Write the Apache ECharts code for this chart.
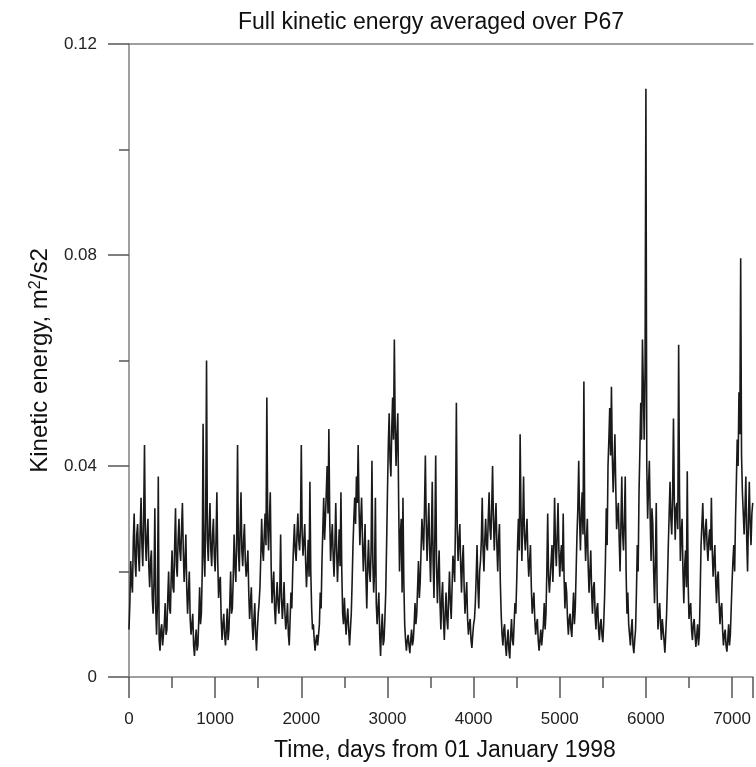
<!DOCTYPE html>
<html>
<head>
<meta charset="utf-8">
<script src="https://cdn.jsdelivr.net/npm/echarts@6/dist/echarts.min.js"></script>
<style>
html,body{margin:0;padding:0;background:#fff;}
#chart{width:756px;height:767px;}
</style>
</head>
<body>
<div id="chart"></div>
<script>
// Values, 20-day spacing.
// keA: days 0, 20, 40, ... ; keB: days 10, 30, 50, ...
const stepDays = 20;
const keA = [
  0.009,0.022,0.016,0.031,0.019,0.029,0.020,0.034,0.021,0.044,
  0.022,0.030,0.017,0.024,0.012,0.032,0.008,0.038,0.005,0.010,
  0.006,0.014,0.009,0.020,0.012,0.024,0.016,0.032,0.019,0.030,
  0.022,0.033,0.018,0.027,0.012,0.020,0.008,0.012,0.004,0.009,
  0.006,0.017,0.012,0.048,0.019,0.060,0.022,0.033,0.021,0.030,
  0.020,0.035,0.015,0.019,0.007,0.012,0.006,0.013,0.009,0.020,
  0.013,0.027,0.018,0.044,0.020,0.035,0.021,0.029,0.019,0.024,
  0.011,0.017,0.007,0.014,0.005,0.012,0.017,0.030,0.022,0.031,
  0.053,0.024,0.035,0.014,0.020,0.010,0.018,0.012,0.027,0.011,
  0.018,0.009,0.014,0.006,0.016,0.020,0.029,0.022,0.031,0.024,
  0.044,0.023,0.029,0.017,0.026,0.037,0.013,0.010,0.005,0.008,
  0.006,0.016,0.022,0.034,0.030,0.040,0.047,0.022,0.029,0.019,
  0.033,0.018,0.028,0.035,0.012,0.015,0.008,0.013,0.006,0.012,
  0.025,0.034,0.038,0.044,0.025,0.034,0.020,0.029,0.013,0.026,
  0.018,0.041,0.016,0.034,0.010,0.016,0.004,0.012,0.007,0.016,
  0.035,0.050,0.038,0.053,0.064,0.040,0.050,0.020,0.030,0.034,
  0.010,0.005,0.008,0.0045,0.009,0.007,0.014,0.012,0.022,0.018,
  0.030,0.024,0.042,0.022,0.033,0.018,0.037,0.015,0.042,0.014,
  0.024,0.009,0.018,0.007,0.016,0.009,0.020,0.011,0.023,0.018,
  0.052,0.022,0.029,0.016,0.025,0.012,0.018,0.008,0.011,0.0055,
  0.010,0.014,0.025,0.013,0.022,0.034,0.020,0.030,0.024,0.035,
  0.026,0.040,0.024,0.033,0.020,0.029,0.012,0.006,0.010,0.004,
  0.009,0.0035,0.011,0.006,0.014,0.018,0.030,0.046,0.022,0.038,
  0.024,0.030,0.019,0.025,0.012,0.016,0.008,0.011,0.005,0.009,
  0.006,0.014,0.012,0.031,0.016,0.022,0.018,0.034,0.021,0.033,
  0.019,0.025,0.031,0.013,0.016,0.008,0.012,0.0076,0.016,0.013,
  0.027,0.041,0.024,0.035,0.056,0.022,0.030,0.016,0.024,0.012,
  0.018,0.009,0.014,0.007,0.011,0.0066,0.015,0.032,0.040,0.051,
  0.055,0.035,0.046,0.028,0.033,0.020,0.038,0.024,0.038,0.012,
  0.010,0.006,0.011,0.0045,0.009,0.025,0.035,0.052,0.064,0.045,
  0.1115,0.030,0.041,0.022,0.029,0.014,0.033,0.009,0.014,0.007,
  0.011,0.0046,0.012,0.025,0.037,0.027,0.049,0.026,0.033,0.063,
  0.022,0.030,0.014,0.024,0.039,0.011,0.014,0.007,0.011,0.0057,
  0.010,0.008,0.025,0.033,0.024,0.030,0.022,0.028,0.034,0.019,
  0.025,0.014,0.020,0.010,0.014,0.006,0.009,0.0048,0.010,0.008,
  0.018,0.025,0.030,0.045,0.054,0.0794,0.035,0.027,0.038,0.020,0.037,0.025,0.033
];
const keB = [
  0.014,0.018,0.026,0.022,0.027,0.023,0.028,0.025,0.030,0.026,
  0.027,0.021,0.022,0.015,0.018,0.013,0.014,0.007,0.009,0.006,
  0.010,0.008,0.015,0.013,0.019,0.017,0.025,0.021,0.026,0.024,
  0.028,0.024,0.022,0.017,0.016,0.011,0.010,0.006,0.007,0.005,
  0.011,0.010,0.020,0.023,0.030,0.026,0.028,0.024,0.027,0.023,
  0.026,0.022,0.018,0.011,0.010,0.008,0.009,0.007,0.014,0.012,
  0.019,0.021,0.026,0.024,0.028,0.024,0.026,0.022,0.021,0.016,
  0.014,0.010,0.011,0.008,0.009,0.014,0.023,0.024,0.027,0.025,
  0.029,0.030,0.021,0.017,0.013,0.015,0.014,0.016,0.015,0.014,
  0.012,0.011,0.008,0.011,0.013,0.025,0.024,0.027,0.026,0.028,
  0.027,0.026,0.022,0.021,0.019,0.020,0.009,0.007,0.007,0.006,
  0.010,0.013,0.028,0.026,0.035,0.031,0.030,0.026,0.023,0.025,
  0.024,0.023,0.021,0.020,0.010,0.011,0.011,0.009,0.009,0.018,
  0.030,0.029,0.033,0.032,0.030,0.026,0.024,0.019,0.021,0.020,
  0.024,0.022,0.020,0.014,0.013,0.008,0.009,0.006,0.011,0.025,
  0.044,0.041,0.047,0.045,0.047,0.046,0.033,0.027,0.016,0.018,
  0.007,0.007,0.006,0.007,0.006,0.010,0.010,0.017,0.015,0.024,
  0.027,0.032,0.029,0.028,0.024,0.026,0.022,0.027,0.021,0.020,
  0.014,0.015,0.011,0.012,0.011,0.015,0.014,0.017,0.021,0.030,
  0.028,0.026,0.021,0.022,0.017,0.015,0.011,0.010,0.007,0.008,
  0.011,0.019,0.017,0.020,0.026,0.024,0.026,0.025,0.030,0.028,
  0.032,0.030,0.029,0.025,0.026,0.018,0.008,0.009,0.006,0.007,
  0.005,0.008,0.007,0.010,0.012,0.025,0.024,0.031,0.029,0.027,
  0.027,0.023,0.022,0.017,0.014,0.011,0.010,0.007,0.007,0.006,
  0.010,0.009,0.020,0.019,0.019,0.025,0.024,0.025,0.027,0.024,
  0.023,0.020,0.019,0.018,0.011,0.011,0.009,0.012,0.010,0.020,
  0.032,0.030,0.031,0.027,0.028,0.026,0.021,0.020,0.016,0.017,
  0.012,0.013,0.009,0.010,0.008,0.010,0.022,0.025,0.045,0.042,
  0.042,0.040,0.036,0.031,0.026,0.029,0.027,0.030,0.020,0.016,
  0.008,0.009,0.006,0.007,0.016,0.020,0.043,0.045,0.055,0.058,
  0.040,0.036,0.030,0.032,0.020,0.022,0.016,0.012,0.010,0.011,
  0.007,0.008,0.018,0.031,0.030,0.034,0.033,0.032,0.028,0.035,
  0.027,0.020,0.021,0.017,0.018,0.013,0.009,0.010,0.008,0.008,
  0.006,0.016,0.029,0.027,0.028,0.025,0.026,0.024,0.024,0.022,
  0.018,0.019,0.014,0.013,0.009,0.008,0.006,0.007,0.006,0.013,
  0.022,0.020,0.037,0.040,0.046,0.042,0.031,0.032,0.026,0.030,0.029,0.031
];
const xTicks = [0, 1000, 2000, 3000, 4000, 5000, 6000, 7000];
const yTicks = [0, 0.04, 0.08, 0.12];
const xMax = 7243;

const seriesData = [];
keA.forEach((v, i) => {
  seriesData.push([i * stepDays, v]);
  if (i < keB.length) seriesData.push([i * stepDays + stepDays / 2, keB[i]]);
});

const FONT = 'Liberation Sans, Arial, sans-serif';
const axisGray = '#808080';
const tickGray = '#555';
const chart = echarts.init(document.getElementById('chart'), null, {renderer: 'canvas'});
chart.setOption({
  animation: false,
  backgroundColor: '#fff',
  title: {
    text: 'Full kinetic energy averaged over P67',
    left: 426, top: 6, textAlign: 'center',
    textStyle: {fontFamily: FONT, fontSize: 23, fontWeight: 'normal', color: '#111'}
  },
  grid: {left: 129, top: 44, right: 0, bottom: 90, containLabel: false},
  xAxis: [{
    type: 'value', min: 0, max: xMax, interval: 1000, position: 'bottom',
    name: 'Time, days from 01 January 1998',
    nameLocation: 'middle', nameGap: 62,
    nameTextStyle: {fontFamily: FONT, fontSize: 23, color: '#111', padding: [0, 0, 0, 8]},
    axisLine: {show: true, onZero: false, lineStyle: {color: axisGray, width: 1.5}},
    axisTick: {show: true, length: 21, inside: false, lineStyle: {color: tickGray, width: 1.5}},
    minorTick: {show: true, splitNumber: 2, length: 11, lineStyle: {color: tickGray, width: 1.5}},
    axisLabel: {
      margin: 34, fontFamily: FONT, fontSize: 17, color: '#222',
      formatter: v => xTicks.includes(v) ? String(v) : ''
    },
    splitLine: {show: false}
  }, {
    type: 'value', min: 0, max: xMax, position: 'top',
    axisLine: {show: true, onZero: false, lineStyle: {color: axisGray, width: 1.5}},
    axisTick: {show: false}, axisLabel: {show: false}, splitLine: {show: false}
  }],
  yAxis: {
    type: 'value', min: 0, max: 0.12, interval: 0.04,
    name: 'Kinetic energy, m{sup|2}/s2',
    nameLocation: 'middle', nameGap: 76, nameRotate: 90,
    nameTextStyle: {
      fontFamily: FONT, fontSize: 24, color: '#111',
      rich: {sup: {fontFamily: FONT, fontSize: 16, color: '#111', verticalAlign: 'top', padding: [0, 0, 9, 0]}}
    },
    axisLine: {show: true, onZero: false, lineStyle: {color: axisGray, width: 1.5}},
    axisTick: {show: true, length: 21, lineStyle: {color: tickGray, width: 1.5}},
    minorTick: {show: true, splitNumber: 2, length: 10, lineStyle: {color: tickGray, width: 1.5}},
    axisLabel: {
      margin: 32, fontFamily: FONT, fontSize: 17, color: '#222',
      formatter: v => {
        const t = yTicks.find(y => Math.abs(y - v) < 1e-9);
        return t === undefined ? '' : String(t);
      }
    },
    splitLine: {show: false}
  },
  series: [{
    type: 'line', data: seriesData, xAxisIndex: 0,
    showSymbol: false, symbol: 'none', sampling: null,
    lineStyle: {color: '#1a1a1a', width: 1.6},
    emphasis: {disabled: true}, silent: true
  }]
});
</script>
</body>
</html>
